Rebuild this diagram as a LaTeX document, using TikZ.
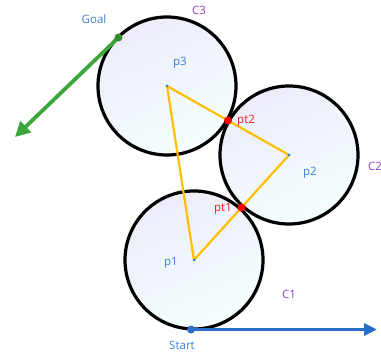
\documentclass[tikz,border=0pt]{standalone}
\usepackage{fontspec}
\setmainfont{Open Sans}
\usetikzlibrary{arrows.meta}
\definecolor{lblblue}{RGB}{58,128,214}
\definecolor{lblpurple}{RGB}{150,60,190}
\definecolor{lblred}{RGB}{240,30,30}
\definecolor{orangeln}{RGB}{255,190,0}
\definecolor{greenar}{RGB}{60,165,60}
\definecolor{bluear}{RGB}{40,110,200}
\definecolor{fillA}{RGB}{236,236,248}
\definecolor{fillB}{RGB}{244,255,255}
\tikzset{
  circ/.style={circle, draw=black, line width=3.2pt, minimum size=138pt, inner sep=0pt,
    top color=fillA, bottom color=fillB, shading angle=25},
  lbl/.style={font=\fontsize{11.5}{13}\selectfont, inner sep=0pt},
  cdot/.style={circle, fill=lblblue, minimum size=3pt, inner sep=0pt},
  reddot/.style={circle, fill=red, minimum size=8pt, inner sep=0pt},
  seg/.style={draw=orangeln, line width=2.2pt},
}
\begin{document}
\begin{tikzpicture}[x=1pt,y=-1pt]
\useasboundingbox (0,0) rectangle (381,353);
\node[circ] (C1) at (194,260) {};
\node[circ] (C2) at (289,155) {};
\node[circ] (C3) at (167,86) {};
\coordinate (p1) at (194,260);
\coordinate (p2) at (289,155);
\coordinate (p3) at (167,86);
\draw[seg] (p1) -- (p3);
\draw[seg] (p3) -- (p2);
\draw[seg] (p2) -- (p1);
\node[cdot] (d1) at (p1) {};
\node[cdot] (d2) at (p2) {};
\node[cdot] (d3) at (p3) {};
\node[reddot] (pt1) at (241.5,207.5) {};
\node[reddot] (pt2) at (228,120.5) {};
% Goal arrow
\coordinate (goalend) at (15,137);
\draw[greenar, line width=3.8pt, -{Triangle[length=15pt,width=15pt]}] (118.5,37.5) -- (goalend);
\node[circle, fill=greenar!85!black, minimum size=8pt, inner sep=0pt] (goal) at (118.5,37.5) {};
% Start arrow
\coordinate (startend) at (377,329.5);
\node[circle, fill=bluear, minimum size=8pt, inner sep=0pt] (start) at (191,329.5) {};
\draw[bluear, line width=3.2pt, -{Triangle[length=13pt,width=12pt]}] (start.center) -- (startend);
% labels
\node[lbl, text=lblblue] at (94,19) {Goal};
\node[lbl, text=lblpurple] at (199,10) {C3};
\node[lbl, text=lblblue] at (180,63) {p3};
\node[lbl, text=lblred, anchor=west] at (237,121) {pt2};
\node[lbl, text=lblpurple, anchor=west] at (368,166) {C2};
\node[lbl, text=lblblue] at (310,173) {p2};
\node[lbl, text=lblred] at (223,209) {pt1};
\node[lbl, text=lblblue] at (171,263) {p1};
\node[lbl, text=lblpurple] at (289,294) {C1};
\node[lbl, text=lblblue] at (182,345) {Start};
\end{tikzpicture}
\end{document}
